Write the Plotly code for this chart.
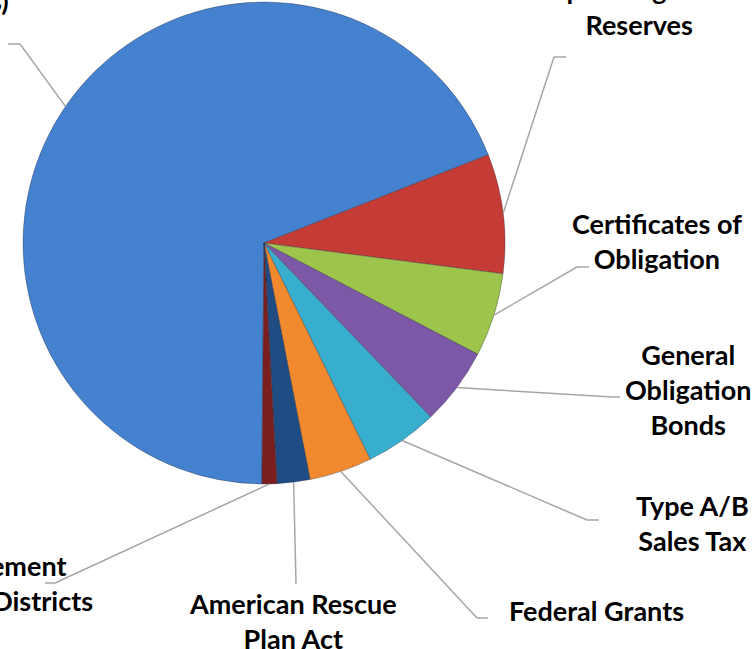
import plotly.graph_objects as go
import math

# ---- data ----
labels = [
    "Enterprise Funds<br>(Utility Revenues)",
    "Operating Fund<br>Reserves",
    "Certificates of<br>Obligation",
    "General<br>Obligation<br>Bonds",
    "Type A/B<br>Sales Tax",
    "Federal Grants",
    "American Rescue<br>Plan Act",
    "Tax Increment<br>Financing Districts",
]
values = [68.9, 8.0, 5.6, 5.2, 4.9, 4.2, 2.2, 1.0]
colors = ["#4482D0", "#C53B35", "#9DC54B", "#7C58A6", "#38AECF", "#F18A2E", "#1F4C82", "#7A1F1E"]

W, H = 754, 649
CX, CY, R = 264, 243, 241
ROT = 180.5

# label layout (pixels): text center, elbow, end of leader line, anchors
label_layout = [
    dict(tx=11, ty=-17, xa="right", al="right", elbow=(20, 44), end=(8, 44)),
    dict(tx=639, ty=7, xa="center", al="center", elbow=(554, 57), end=(566, 57)),
    dict(tx=657, ty=241, xa="center", al="center", elbow=(577, 267), end=(589, 267)),
    dict(tx=688, ty=389, xa="center", al="center", elbow=(612, 397), end=(620, 397)),
    dict(tx=692, ty=523, xa="center", al="center", elbow=(587, 520), end=(599, 520)),
    dict(tx=596, ty=610, xa="center", al="center", elbow=(477, 618), end=(488, 618)),
    dict(tx=293, ty=621, xa="center", al="center", elbow=(296, 584), end=(296, 584)),
    dict(tx=-19, ty=583, xa="center", al="center", elbow=(55, 583), end=(45, 583)),
]

def px(x):
    return x / W

def py(y):
    return 1 - y / H

fig = go.Figure(go.Pie(
    labels=labels,
    values=values,
    sort=False,
    direction="clockwise",
    rotation=ROT,
    textinfo="none",
    hoverinfo="label+percent",
    marker=dict(colors=colors, line=dict(color="rgba(40,40,60,0.35)", width=1)),
    domain=dict(x=[px(CX - R), px(CX + R)], y=[py(CY + R), py(CY - R)]),
    showlegend=False,
))

shapes = []
annotations = []
total = sum(values)
cum = 0.0
for lab, v, lay in zip(labels, values, label_layout):
    mid = math.radians(ROT + (cum + v / 2) / total * 360)
    cum += v
    sx = CX + R * math.sin(mid)
    sy = CY - R * math.cos(mid)
    ex, ey = lay["elbow"]
    fx, fy = lay["end"]
    line = dict(color="#A6A6A6", width=1.5)
    shapes.append(dict(type="line", xref="paper", yref="paper",
                       x0=px(sx), y0=py(sy), x1=px(ex), y1=py(ey), line=line))
    if (fx, fy) != (ex, ey):
        shapes.append(dict(type="line", xref="paper", yref="paper",
                           x0=px(ex), y0=py(ey), x1=px(fx), y1=py(fy), line=line))
    annotations.append(dict(
        text="<b>" + lab + "</b>", xref="paper", yref="paper",
        x=px(lay["tx"]), y=py(lay["ty"]), xanchor=lay["xa"], yanchor="middle",
        align=lay["al"], showarrow=False,
        font=dict(family="Lato", size=27, color="#000000"),
    ))

fig.update_layout(
    width=W, height=H,
    margin=dict(l=0, r=0, t=0, b=0),
    paper_bgcolor="white", plot_bgcolor="white",
    shapes=shapes, annotations=annotations,
)

fig.write_html("out.html")
